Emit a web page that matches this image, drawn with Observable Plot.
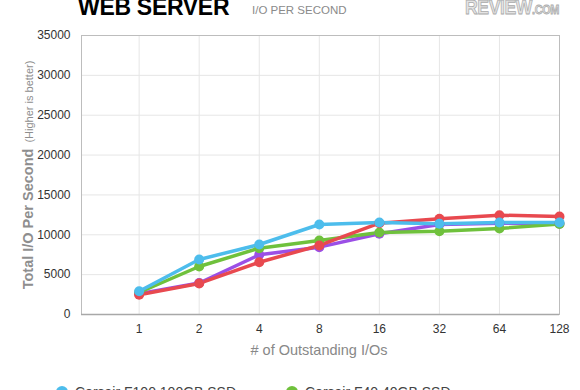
<!DOCTYPE html>
<html>
<head>
<meta charset="utf-8">
<script src="https://cdn.jsdelivr.net/npm/d3@7"></script>
<script src="https://cdn.jsdelivr.net/npm/@observablehq/plot@0.6"></script>
<style>
  html, body { margin: 0; padding: 0; background: #fff; overflow: hidden; }
  #wrap { position: relative; width: 580px; height: 390px; font-family: "Liberation Sans", Arial, sans-serif; }
  #chart { position: absolute; left: 0; top: 0; }
  .abs { position: absolute; white-space: nowrap; }
</style>
</head>
<body>
<div id="wrap">
  <div id="chart"></div>
  <div class="abs" style="left:78px; top:-6px; font-size:23px; font-weight:bold; color:#000; letter-spacing:-0.3px;">WEB SERVER</div>
  <div class="abs" style="left:252px; top:4px; font-size:11.5px; color:#8a8a8a;">I/O PER SECOND</div>
  <div class="abs" style="left:465px; top:-5px; font-size:21px; font-weight:bold; color:#e4e4e4; -webkit-text-stroke:0.8px #aaa; letter-spacing:-0.5px; transform:scaleX(0.84); transform-origin:left top;">REVIEW<span style="font-size:13px;">.COM</span></div>
  <div class="abs" id="ytitle" style="left:28px; top:175px; transform:translate(-50%,-50%) rotate(-90deg); color:#8e8e8e;"><span style="font-size:14.5px; font-weight:bold;">Total I/O Per Second</span><span style="font-size:11px; margin-left:6px;">(Higher is better)</span></div>
  <div class="abs" style="left:319px; top:342px; transform:translateX(-50%); font-size:14.5px; color:#888;"># of Outstanding I/Os</div>
  <div id="legend"></div>
</div>
<script>
const xLabels = ["1", "2", "4", "8", "16", "32", "64", "128"];
const seriesNames = ["Corsair F60 60GB SSD", "Corsair F40 40GB SSD", "Corsair F120 120GB SSD", "Corsair F100 100GB SSD"];
const seriesColors = ["#9b4fe6", "#6fc13c", "#e8494f", "#4dbdec"];
const purpleValues = [2600, 3950, 7490, 8450, 10120, 11290, 11450, 11380];
const greenValues = [2760, 6020, 8320, 9280, 10290, 10450, 10790, 11350];
const redValues = [2470, 3900, 6560, 8660, 11450, 12000, 12460, 12300];
const blueValues = [2920, 6900, 8780, 11290, 11540, 11380, 11540, 11540];
const yTicks = [0, 5000, 10000, 15000, 20000, 25000, 30000, 35000];

const allValues = [purpleValues, greenValues, redValues, blueValues];
const data = [];
allValues.forEach((vals, s) => vals.forEach((v, i) => data.push({series: seriesNames[s], i, v})));

const chart = Plot.plot({
  width: 580,
  height: 390,
  marginLeft: 81,
  marginRight: 21,
  marginTop: 35,
  marginBottom: 76,
  style: {fontFamily: "'Liberation Sans', Arial, sans-serif", fontSize: "12px", color: "#333", background: "transparent"},
  x: {domain: [-0.96, 7], axis: null},
  y: {domain: [0, 35000], axis: null},
  color: {domain: seriesNames, range: seriesColors},
  marks: [
    Plot.ruleY(yTicks.slice(1, -1), {stroke: "#e6e6e6", strokeWidth: 1}),
    Plot.ruleX(d3.range(xLabels.length), {stroke: "#e6e6e6", strokeWidth: 1}),
    Plot.frame({stroke: "#bdbdbd", strokeWidth: 1}),
    Plot.ruleY([0], {stroke: "#a8a8a8", strokeWidth: 1.5}),
    Plot.axisY(yTicks, {tickSize: 0, tickPadding: 11, tickFormat: d => String(d), fill: "#333", fontSize: 12, label: null}),
    Plot.axisX(d3.range(xLabels.length), {tickSize: 0, tickPadding: 10, tickFormat: i => xLabels[i], fill: "#333", fontSize: 12, label: null}),
    Plot.line(data, {x: "i", y: "v", z: "series", stroke: "series", strokeWidth: 3.5, strokeLinejoin: "round", strokeLinecap: "round"}),
    Plot.dot(data, {x: "i", y: "v", fill: "series", r: 5, stroke: null})
  ]
});
document.getElementById("chart").appendChild(chart);

// Legend (two columns, rows below)
const legend = document.getElementById("legend");
const legendOrder = [3, 1, 0, 2];
legendOrder.forEach((s, k) => {
  const col = k % 2, row = Math.floor(k / 2);
  const left = 56 + col * 230, top = 384 + row * 22;
  const item = document.createElement("div");
  item.className = "abs";
  item.style.left = left + "px";
  item.style.top = top + "px";
  item.style.fontSize = "14px";
  item.style.color = "#444";
  item.innerHTML = `<span style="display:inline-block;width:12px;height:12px;border-radius:50%;background:${seriesColors[s]};vertical-align:-1px;margin-right:7px;"></span>${seriesNames[s]}`;
  legend.appendChild(item);
});
</script>
</body>
</html>
